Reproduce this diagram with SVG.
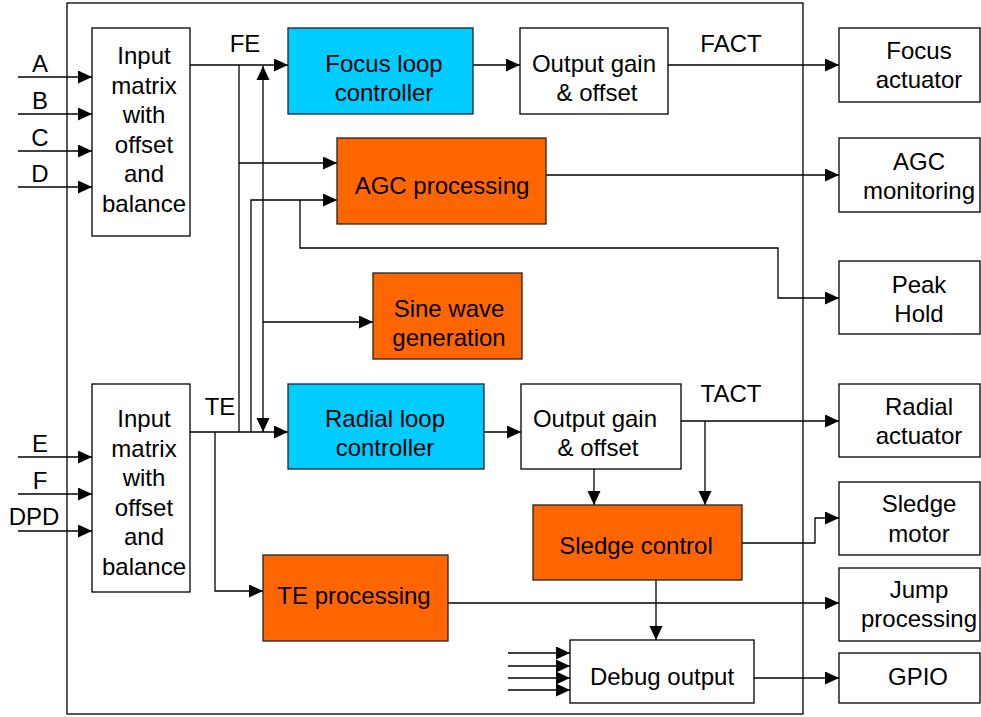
<svg xmlns="http://www.w3.org/2000/svg" width="981" height="717" viewBox="0 0 981 717">
<style>
.b{fill:#fff;stroke:#000;stroke-width:1.3}
.o{fill:#FF6600;stroke:#222;stroke-width:1.3}
.c{fill:#00CCFF;stroke:#222;stroke-width:1.3}
.t{font-family:"Liberation Sans",Arial,sans-serif;font-size:24px;fill:#000;text-anchor:middle}
.w{fill:none;stroke:#000;stroke-width:1.3}
.a{marker-end:url(#ah)}
</style>
<defs>
<marker id="ah" markerUnits="userSpaceOnUse" markerWidth="15" markerHeight="14" refX="14" refY="6.5" orient="auto">
<path d="M0,0 L14,6.5 L0,13 z" fill="#000"/>
</marker>
<marker id="as" markerUnits="userSpaceOnUse" markerWidth="15" markerHeight="14" refX="0" refY="6.5" orient="auto">
<path d="M14,0 L0,6.5 L14,13 z" fill="#000"/>
</marker>
</defs>
<rect id="frame" x="67" y="3" width="736" height="711" fill="none" stroke="#000" stroke-width="1.3"/>
<g id="connectors">
<path class="w a" d="M18,77 H92"/>
<path class="w a" d="M18,114 H92"/>
<path class="w a" d="M18,151 H92"/>
<path class="w a" d="M18,187 H92"/>
<path class="w a" d="M18,457 H92"/>
<path class="w a" d="M18,494 H92"/>
<path class="w a" d="M18,531 H92"/>
<path class="w a" d="M190,65 H288"/>
<path class="w" d="M239,65 V432"/>
<path class="w a" d="M239,163 H337"/>
<path class="w" style="marker-start:url(#as);marker-end:url(#ah)" d="M263,66 V432"/>
<path class="w a" d="M263,322 H373"/>
<path class="w a" d="M251,432 V200 H337"/>
<path class="w a" d="M300,200 V248 H778 V298 H839"/>
<path class="w a" d="M190,432 H288"/>
<path class="w a" d="M215,432 V591 H263"/>
<path class="w a" d="M472,65 H520"/>
<path class="w a" d="M668,65 H839"/>
<path class="w a" d="M546,175 H839"/>
<path class="w a" d="M484,432 H521"/>
<path class="w a" d="M681,421 H839"/>
<path class="w a" d="M705,421 V505"/>
<path class="w a" d="M594,469 V505"/>
<path class="w a" d="M742,543 H815 V518 H839"/>
<path class="w a" d="M656,580 V640"/>
<path class="w a" d="M448,603 H839"/>
<path class="w a" d="M754,678 H839"/>
<path class="w a" d="M508,653 H570"/>
<path class="w a" d="M508,666 H570"/>
<path class="w a" d="M508,678 H570"/>
<path class="w a" d="M508,690 H570"/>
</g>
<g id="labels">
<text class="t" x="40" y="72">A</text>
<text class="t" x="40" y="109">B</text>
<text class="t" x="40" y="146">C</text>
<text class="t" x="40" y="182">D</text>
<text class="t" x="40" y="452">E</text>
<text class="t" x="40" y="489">F</text>
<text class="t" x="34" y="525">DPD</text>
<text class="t" x="245" y="52">FE</text>
<text class="t" x="220" y="415">TE</text>
<text class="t" x="731" y="52">FACT</text>
<text class="t" x="731" y="402">TACT</text>
</g>
<g id="input-matrix-1">
<rect class="b" x="92" y="28" width="98" height="208"/>
<text class="t" x="144"><tspan x="144" y="64">Input</tspan><tspan x="144" y="93.5">matrix</tspan><tspan x="144" y="123">with</tspan><tspan x="144" y="152.5">offset</tspan><tspan x="144" y="182">and</tspan><tspan x="144" y="211.5">balance</tspan></text>
</g>
<g id="input-matrix-2">
<rect class="b" x="92" y="384" width="98" height="208"/>
<text class="t" x="144"><tspan x="144" y="427">Input</tspan><tspan x="144" y="456.5">matrix</tspan><tspan x="144" y="486">with</tspan><tspan x="144" y="515.5">offset</tspan><tspan x="144" y="545">and</tspan><tspan x="144" y="574.5">balance</tspan></text>
</g>
<g id="focus-loop-controller">
<rect class="c" x="288" y="28" width="185" height="86"/>
<text class="t"><tspan x="384" y="72">Focus loop</tspan><tspan x="384" y="101">controller</tspan></text>
</g>
<g id="output-gain-1">
<rect class="b" x="520" y="28" width="148" height="86"/>
<text class="t"><tspan x="594" y="72">Output gain</tspan><tspan x="597" y="101">&amp; offset</tspan></text>
</g>
<g id="agc-processing">
<rect class="o" x="337" y="138" width="209" height="86"/>
<text class="t" x="442" y="194">AGC processing</text>
</g>
<g id="sine-wave-generation">
<rect class="o" x="373" y="273" width="149" height="86"/>
<text class="t"><tspan x="449" y="317">Sine wave</tspan><tspan x="449" y="346">generation</tspan></text>
</g>
<g id="radial-loop-controller">
<rect class="c" x="288" y="384" width="196" height="85"/>
<text class="t"><tspan x="385" y="427">Radial loop</tspan><tspan x="385" y="456">controller</tspan></text>
</g>
<g id="output-gain-2">
<rect class="b" x="521" y="384" width="160" height="85"/>
<text class="t"><tspan x="595" y="427">Output gain</tspan><tspan x="598" y="456">&amp; offset</tspan></text>
</g>
<g id="sledge-control">
<rect class="o" x="533" y="505" width="209" height="75"/>
<text class="t" x="636" y="554">Sledge control</text>
</g>
<g id="te-processing">
<rect class="o" x="263" y="555" width="185" height="86"/>
<text class="t" x="354" y="604">TE processing</text>
</g>
<g id="debug-output">
<rect class="b" x="570" y="640" width="184" height="63"/>
<text class="t" x="662" y="685">Debug output</text>
</g>
<g id="focus-actuator">
<rect class="b" x="839" y="28" width="141" height="74"/>
<text class="t"><tspan x="919" y="59">Focus</tspan><tspan x="919" y="88">actuator</tspan></text>
</g>
<g id="agc-monitoring">
<rect class="b" x="839" y="138" width="141" height="74"/>
<text class="t"><tspan x="919" y="170">AGC</tspan><tspan x="919" y="199">monitoring</tspan></text>
</g>
<g id="peak-hold">
<rect class="b" x="839" y="261" width="141" height="73"/>
<text class="t"><tspan x="919" y="293">Peak</tspan><tspan x="919" y="322">Hold</tspan></text>
</g>
<g id="radial-actuator">
<rect class="b" x="839" y="384" width="141" height="73"/>
<text class="t"><tspan x="919" y="415">Radial</tspan><tspan x="919" y="444">actuator</tspan></text>
</g>
<g id="sledge-motor">
<rect class="b" x="839" y="482" width="141" height="73"/>
<text class="t"><tspan x="919" y="512">Sledge</tspan><tspan x="919" y="542">motor</tspan></text>
</g>
<g id="jump-processing">
<rect class="b" x="839" y="568" width="141" height="73"/>
<text class="t"><tspan x="919" y="598">Jump</tspan><tspan x="919" y="627">processing</tspan></text>
</g>
<g id="gpio">
<rect class="b" x="839" y="653" width="141" height="50"/>
<text class="t" x="918" y="685">GPIO</text>
</g>
</svg>
